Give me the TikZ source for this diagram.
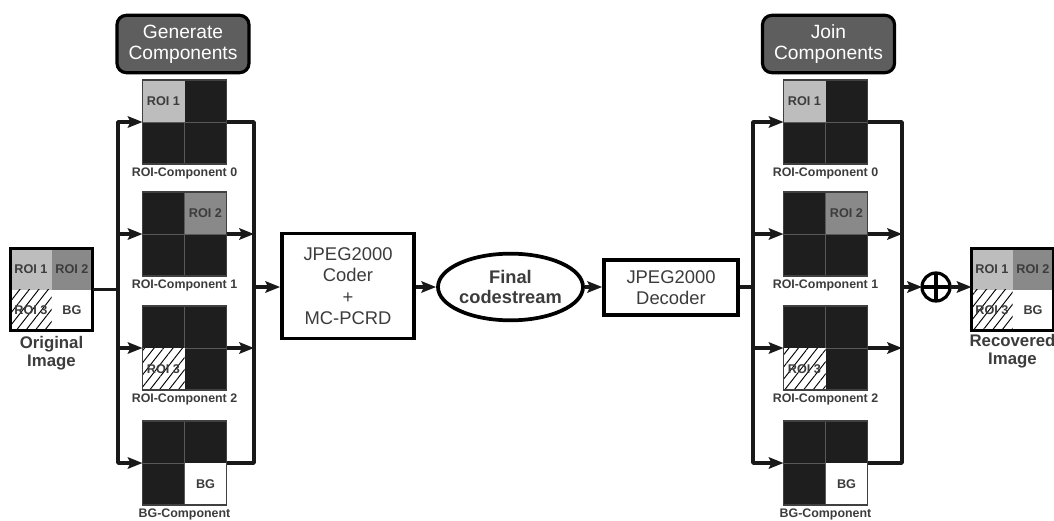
\documentclass[tikz,border=0pt]{standalone}
\usepackage{fontspec}
\setmainfont{Liberation Sans}
\usetikzlibrary{arrows.meta,shapes.geometric,patterns.meta,calc}
\definecolor{txt}{HTML}{3C3C3C}
\definecolor{roiA}{HTML}{BDBDBD}
\definecolor{roiB}{HTML}{898989}
\definecolor{hdr}{HTML}{5E5E5E}
\definecolor{blk}{HTML}{1E1E1E}
\tikzset{
  conn/.style={line width=2.7pt, draw=black!90, line join=round},
  arr/.style={conn, -{Stealth[length=11pt,width=8.5pt,inset=2pt]}},
  hdrbox/.style={rectangle, rounded corners=7pt, fill=hdr, draw=black, line width=2.4pt,
    text=white, minimum width=99pt, minimum height=43pt, align=center,
    font=\fontsize{14.4}{15.8}\selectfont},
  comp/.style={rectangle, fill=blk, draw=black!75, line width=0.8pt,
    minimum size=63pt, inner sep=0pt, outer sep=0pt},
  img/.style={rectangle, minimum size=61.5pt, inner sep=0pt, outer sep=0pt},
  gridln/.style={draw=black!65, line width=0.5pt},
  qtext/.style={text=txt, font=\bfseries\fontsize{9.5}{10}\selectfont, inner sep=0pt},
  clabel/.style={text=txt, font=\bfseries\fontsize{9.3}{10}\selectfont, inner sep=0pt, anchor=north},
  imlabel/.style={text=txt, font=\bfseries\fontsize{12.6}{13.5}\selectfont, align=center, inner sep=0pt, anchor=north},
  procbox/.style={rectangle, draw=black, line width=2.8pt, text=txt, align=center,
    font=\fontsize{13.8}{16}\selectfont},
  hatch/.style={pattern={Lines[angle=52,distance=5.6pt,line width=0.7pt]}, pattern color=black},
}
\newcommand{\compbox}[4]{%
  \node[comp] (#1) at (#2,#3) {};
  \draw[gridln] (#1.north) -- (#1.south) (#1.west) -- (#1.east);
  \node[clabel] (#1l) at ([yshift=-2.5pt]#1.south) {#4};
}
\newcommand{\qroia}[1]{%
  \fill[roiA] (#1.north west) rectangle (#1.center);
  \node[qtext] at ($(#1.north west)!0.5!(#1.center)$) {ROI 1};}
\newcommand{\qroib}[1]{%
  \fill[roiB] (#1.north) rectangle (#1.east);
  \node[qtext] at ($(#1.north)!0.5!(#1.east)$) {ROI 2};}
\newcommand{\qroic}[1]{%
  \fill[white] (#1.west) rectangle (#1.south);
  \fill[hatch] (#1.west) rectangle (#1.south);
  \node[qtext] at ($(#1.west)!0.5!(#1.south)$) {ROI 3};}
\newcommand{\qbg}[1]{%
  \fill[white] (#1.center) rectangle (#1.south east);
  \node[qtext] at ($(#1.center)!0.5!(#1.south east)$) {BG};}
\newcommand{\fullimg}[3]{%
  \node[img] (#1) at (#2,#3) {};
  \qroia{#1}\qroib{#1}\qroic{#1}\qbg{#1}
  \draw[line width=2.3pt] (#1.north west) rectangle (#1.south east);
}
\begin{document}
\begin{tikzpicture}[x=0.75pt,y=-0.75pt]
\useasboundingbox (0,0) rectangle (1054,521);

% ---------- left part ----------
\fullimg{orig}{51.5}{289.5}
\node[imlabel] (origl) at ([yshift=-4pt]orig.south) {Original\\Image};

\node[hdrbox] (gen) at (183,44) {Generate\\Components};

\compbox{c0}{184.5}{122}{ROI-Component 0}
\compbox{c1}{184.5}{234}{ROI-Component 1}
\compbox{c2}{184.5}{348}{ROI-Component 2}
\compbox{c3}{184.5}{463}{BG-Component}
\qroia{c0}\qroib{c1}\qroic{c2}\qbg{c3}
\foreach \n in {c0,c1,c2,c3}{\draw[draw=black!75, line width=0.8pt] (\n.north west) rectangle (\n.south east);}

\coordinate (lbm) at (118,289.5);
\coordinate (rbm) at (254,287);
\draw[conn] (orig.east) -- (lbm);
\draw[arr] (lbm) |- (c0.west);
\draw[arr] (lbm) |- (c3.west);
\draw[arr] (c1.west -| lbm) -- (c1.west);
\draw[arr] (c2.west -| lbm) -- (c2.west);
\draw[conn] (c0.east) -| (rbm);
\draw[conn] (c3.east) -| (rbm);
\draw[arr] (c1.east) -- (c1.east -| rbm);
\draw[arr] (c2.east) -- (c2.east -| rbm);

% ---------- middle ----------
\node[procbox, minimum width=99pt, minimum height=78.75pt] (coder) at (348,286) {JPEG2000\\Coder\\+\\MC-PCRD};
\node[ellipse, draw=black, line width=2.8pt, minimum width=98pt, minimum height=50pt,
  inner sep=0pt, text=txt, align=center, font=\bfseries\fontsize{13.7}{15.5}\selectfont] (final) at (510.5,287) {Final\\codestream};
\node[procbox, minimum width=100.5pt, minimum height=41pt] (dec) at (671,287.5) {JPEG2000\\Decoder};

\draw[arr] (rbm) -- (rbm -| coder.west);
\draw[arr] (coder.east |- final.west) -- (final.west);
\draw[arr] (final.east) -- (final.east -| dec.west);

% ---------- right part ----------
\node[hdrbox] (join) at (828.5,44) {Join\\Components};

\compbox{r0}{825.5}{122}{ROI-Component 0}
\compbox{r1}{825.5}{234}{ROI-Component 1}
\compbox{r2}{825.5}{348}{ROI-Component 2}
\compbox{r3}{825.5}{463}{BG-Component}
\qroia{r0}\qroib{r1}\qroic{r2}\qbg{r3}
\foreach \n in {r0,r1,r2,r3}{\draw[draw=black!75, line width=0.8pt] (\n.north west) rectangle (\n.south east);}

\coordinate (rlm) at (753,287);
\coordinate (rrm) at (902,287);
\draw[conn] (dec.east |- rlm) -- (rlm);
\draw[arr] (rlm) |- (r0.west);
\draw[arr] (rlm) |- (r3.west);
\draw[arr] (r1.west -| rlm) -- (r1.west);
\draw[arr] (r2.west -| rlm) -- (r2.west);
\draw[conn] (r0.east) -| (rrm);
\draw[conn] (r3.east) -| (rrm);
\draw[arr] (r1.east) -- (r1.east -| rrm);
\draw[arr] (r2.east) -- (r2.east -| rrm);

\node[circle, draw=black, line width=2.4pt, minimum size=21pt, inner sep=0pt, outer sep=0pt] (op) at (936,287) {};
\draw[line width=2.4pt] (op.north) -- (op.south) (op.west) -- (op.east);
\draw[arr] (rrm) -- (op.west);

\fullimg{rec}{1012.5}{289.5}
\node[imlabel] (recl) at ([yshift=-3pt]rec.south) {Recovered\\Image};
\draw[arr] (op.east) -- (op.east -| rec.west);
\end{tikzpicture}
\end{document}
